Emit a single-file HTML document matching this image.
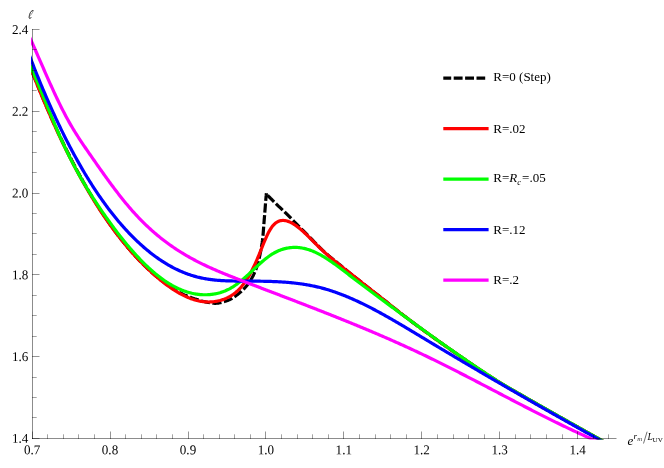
<!DOCTYPE html>
<html><head><meta charset="utf-8"><title>plot</title>
<style>
html,body{margin:0;padding:0;background:#fff;}
body{width:664px;height:468px;overflow:hidden;}
svg{display:block;opacity:0.999;will-change:transform;}
text{font-family:"Liberation Serif",serif;font-size:13px;fill:#000;}
.i{font-style:italic;}
.t{font-size:13.45px;}
</style></head><body>
<svg width="664" height="468" viewBox="0 0 664 468">
<rect width="664" height="468" fill="#fff"/>
<defs><clipPath id="c"><rect x="31.0" y="20" width="600" height="419.40"/></clipPath></defs>
<g clip-path="url(#c)" fill="none" stroke-width="3.2" stroke-linejoin="round">
<path d="M266.40,193.20 L266.40,193.24 L266.38,193.36 L266.37,193.56 L266.34,193.83 L266.31,194.16 L266.27,194.55 L266.23,194.99 L266.19,195.48 L266.14,196.02 L266.08,196.59 L266.03,197.19 L265.97,197.87 L265.88,198.95 L265.76,200.41 L265.62,202.18 L265.46,204.21 L265.28,206.43 L265.10,208.77 L264.91,211.16 L264.72,213.55 L264.54,215.86 L264.36,218.03 L264.20,220.00 L264.05,221.82 L263.92,223.59 L263.79,225.33 L263.66,227.04 L263.53,228.73 L263.41,230.42 L263.27,232.11 L263.13,233.82 L262.97,235.54 L262.80,237.29 L262.60,239.09 L262.39,240.94 L262.12,242.91 L261.80,244.97 L261.45,247.10 L261.06,249.26 L260.65,251.42 L260.22,253.54 L259.78,255.60 L259.34,257.55 L258.91,259.38 L258.49,261.04 L258.10,262.50 L257.73,263.80 L257.37,265.01 L257.02,266.13 L256.67,267.18 L256.33,268.19 L255.98,269.15 L255.62,270.09 L255.24,271.02 L254.85,271.95 L254.43,272.90 L253.99,273.89 L253.50,274.92 L252.97,275.99 L252.39,277.08 L251.76,278.19 L251.10,279.31 L250.42,280.41 L249.72,281.50 L249.02,282.55 L248.31,283.57 L247.60,284.53 L246.92,285.43 L246.25,286.25 L245.60,287.01 L244.97,287.73 L244.33,288.42 L243.71,289.07 L243.08,289.70 L242.44,290.31 L241.80,290.90 L241.15,291.49 L240.49,292.06 L239.81,292.63 L239.11,293.21 L238.39,293.79 L237.64,294.39 L236.89,294.99 L236.11,295.59 L235.32,296.19 L234.52,296.77 L233.70,297.34 L232.86,297.89 L232.02,298.41 L231.16,298.90 L230.28,299.35 L229.40,299.75 L228.45,300.14 L227.40,300.53 L226.28,300.92 L225.12,301.30 L223.95,301.66 L222.79,302.01 L221.69,302.31 L220.66,302.58 L219.74,302.80 L218.96,302.97 L218.34,303.07 L217.90,303.12 L217.54,303.15 L217.24,303.17 L216.98,303.20 L216.75,303.22 L216.54,303.24 L216.34,303.26 L216.13,303.27 L215.90,303.29 L215.65,303.29 L215.35,303.30 L215.00,303.30 L214.58,303.29 L214.09,303.26 L213.54,303.21 L212.94,303.14 L212.29,303.06 L211.60,302.97 L210.88,302.86 L210.14,302.75 L209.39,302.64 L208.63,302.51 L207.87,302.39 L207.12,302.26 L206.35,302.11 L205.56,301.93 L204.74,301.74 L203.90,301.52 L203.04,301.28 L202.15,301.03 L201.26,300.77 L200.34,300.49 L199.41,300.21 L198.46,299.92 L197.50,299.63 L196.51,299.33 L195.49,299.00 L194.44,298.66 L193.36,298.30 L192.26,297.92 L191.14,297.53 L190.02,297.12 L188.89,296.69 L187.77,296.26 L186.65,295.81 L185.55,295.35 L184.46,294.87 L183.37,294.37 L182.28,293.85 L181.20,293.30 L180.11,292.73 L179.02,292.14 L177.93,291.54 L176.85,290.91 L175.76,290.28 L174.67,289.63 L173.59,288.97 L172.50,288.30 L171.40,287.60 L170.29,286.88 L169.17,286.12 L168.04,285.34 L166.92,284.54 L165.80,283.73 L164.69,282.92 L163.60,282.10 L162.53,281.29 L161.49,280.49 L160.49,279.70 L159.52,278.94 L158.61,278.21 L157.73,277.50 L156.88,276.80 L156.05,276.10 L155.23,275.41 L154.41,274.70 L153.58,273.98 L152.74,273.23 L151.87,272.45 L150.96,271.63 L150.00,270.76 L148.99,269.83 L147.93,268.83 L146.82,267.78 L145.69,266.69 L144.53,265.55 L143.35,264.39 L142.17,263.20 L140.99,262.01 L139.82,260.81 L138.67,259.61 L137.55,258.43 L136.46,257.27 L135.39,256.12 L134.35,254.97 L133.31,253.82 L132.28,252.67 L131.26,251.50 L130.23,250.32 L129.21,249.13 L128.17,247.91 L127.13,246.67 L126.07,245.40 L125.00,244.10 L123.90,242.75 L122.79,241.37 L121.66,239.94 L120.51,238.49 L119.36,237.01 L118.21,235.50 L117.06,233.99 L115.91,232.46 L114.78,230.93 L113.65,229.41 L112.55,227.89 L111.46,226.39 L110.38,224.88 L109.31,223.36 L108.24,221.84 L107.19,220.31 L106.14,218.77 L105.09,217.24 L104.06,215.70 L103.03,214.15 L102.01,212.61 L101.00,211.07 L100.00,209.53 L99.02,208.00 L98.05,206.49 L97.11,205.00 L96.18,203.52 L95.25,202.03 L94.32,200.53 L93.39,199.01 L92.45,197.46 L91.50,195.87 L90.52,194.24 L89.51,192.54 L88.48,190.78 L87.40,188.94 L86.30,187.03 L85.17,185.06 L84.02,183.03 L82.86,180.97 L81.70,178.88 L80.53,176.77 L79.37,174.66 L78.23,172.56 L77.10,170.47 L76.00,168.41 L74.92,166.37 L73.84,164.33 L72.77,162.28 L71.71,160.22 L70.66,158.17 L69.61,156.11 L68.58,154.05 L67.54,151.99 L66.52,149.94 L65.51,147.88 L64.50,145.83 L63.50,143.79 L62.53,141.78 L61.58,139.80 L60.64,137.83 L59.71,135.87 L58.79,133.91 L57.86,131.92 L56.92,129.91 L55.98,127.85 L55.01,125.74 L54.02,123.56 L53.00,121.31 L51.94,118.96 L50.85,116.51 L49.74,113.98 L48.60,111.38 L47.44,108.73 L46.28,106.04 L45.11,103.32 L43.95,100.60 L42.80,97.88 L41.66,95.18 L40.55,92.51 L39.46,89.88 L38.38,87.26 L37.31,84.65 L36.24,82.03 L35.19,79.41 L34.14,76.79 L33.10,74.17 L32.06,71.55 L31.04,68.93 L30.02,66.31 L29.00,63.70 L28.00,61.08" stroke="#000" stroke-dasharray="9.1 2.55" stroke-dashoffset="1.35" stroke-linejoin="bevel"/>
<path d="M266.40,194.00 L268.40,196.10 L270.40,198.17 L272.40,200.21 L274.40,202.21 L276.40,204.16 L278.40,206.06 L280.40,207.93 L282.40,209.81 L284.40,211.72 L286.40,213.68 L288.40,215.68 L290.40,217.70 L292.40,219.74 L294.40,221.79 L296.40,223.83 L298.40,225.88 L300.40,227.90 L302.40,229.93 L304.40,231.95 L306.40,233.97 L308.40,235.99 L310.40,238.00 L312.40,240.00 L314.40,242.01 L316.40,244.05 L318.40,246.08 L320.40,248.09 L322.40,250.05 L324.40,251.93 L326.40,253.73 L328.40,255.45 L330.40,257.12 L332.40,258.76 L334.40,260.39 L336.40,262.02 L338.40,263.68 L340.40,265.33 L342.40,266.98 L344.40,268.62 L346.40,270.26 L348.40,271.88 L350.40,273.49 L352.40,275.09 L354.40,276.67 L356.40,278.25 L358.40,279.83 L360.40,281.41 L362.40,282.99 L364.40,284.57 L366.40,286.15 L368.40,287.73 L370.40,289.31 L372.40,290.88 L374.40,292.45 L376.40,294.01 L378.40,295.57 L380.40,297.13 L382.40,298.70 L384.40,300.27 L386.40,301.85 L388.40,303.45 L390.40,305.05 L392.40,306.66 L394.40,308.26 L396.40,309.84 L398.40,311.40 L400.40,312.96 L402.40,314.50 L404.40,316.04 L406.40,317.57 L408.40,319.09 L410.40,320.60 L412.40,322.11 L414.40,323.60 L416.40,325.09 L418.40,326.57 L420.40,328.04 L422.40,329.51 L424.40,330.96 L426.40,332.41 L428.40,333.85 L430.40,335.29 L432.40,336.72 L434.40,338.15 L436.40,339.58 L438.40,341.01 L440.40,342.43 L442.40,343.84 L444.40,345.26 L446.40,346.67 L448.40,348.07 L450.40,349.48 L452.40,350.87 L454.40,352.27 L456.40,353.66 L458.40,355.05 L460.40,356.43 L462.40,357.81 L464.40,359.18 L466.40,360.55 L468.40,361.92 L470.40,363.28 L472.40,364.63 L474.40,365.98 L476.40,367.33 L478.40,368.67 L480.40,370.01 L482.40,371.34 L484.40,372.68 L486.40,374.01 L488.40,375.33 L490.40,376.64 L492.40,377.93 L494.40,379.20 L496.40,380.46 L498.40,381.71 L500.40,382.94 L502.40,384.16 L504.40,385.37 L506.40,386.56 L508.40,387.73 L510.40,388.88 L512.40,390.02 L514.40,391.16 L516.40,392.31 L518.40,393.46 L520.40,394.60 L522.40,395.75 L524.40,396.90 L526.40,398.05 L528.40,399.19 L530.40,400.33 L532.40,401.48 L534.40,402.62 L536.40,403.76 L538.40,404.90 L540.40,406.04 L542.40,407.18 L544.40,408.31 L546.40,409.45 L548.40,410.58 L550.40,411.72 L552.40,412.85 L554.40,413.98 L556.40,415.11 L558.40,416.24 L560.40,417.37 L562.40,418.50 L564.40,419.63 L566.40,420.75 L568.40,421.88 L570.40,423.00 L572.40,424.12 L574.40,425.25 L576.40,426.37 L578.40,427.49 L580.40,428.61 L582.40,429.72 L584.40,430.84 L586.40,431.96 L588.40,433.07 L590.40,434.19 L592.40,435.30 L594.40,436.42 L596.40,437.53 L598.40,438.64 L600.40,439.75 L602.40,440.86 L604.40,441.97 L606.40,443.08" stroke="#000" stroke-dasharray="9.3 2.6" stroke-dashoffset="-1.7" stroke-linejoin="bevel"/>
<path d="M28.00,60.97 L29.00,63.62 L30.00,66.25 L31.00,68.86 L32.00,71.45 L33.00,74.03 L34.00,76.59 L35.00,79.13 L36.00,81.66 L37.00,84.16 L38.00,86.66 L39.00,89.13 L40.00,91.59 L41.00,94.03 L42.00,96.45 L43.00,98.86 L44.00,101.24 L45.00,103.62 L46.00,105.97 L47.00,108.31 L48.00,110.64 L49.00,112.94 L50.00,115.23 L51.00,117.51 L52.00,119.77 L53.00,122.01 L54.00,124.23 L55.00,126.44 L56.00,128.63 L57.00,130.81 L58.00,132.97 L59.00,135.12 L60.00,137.25 L61.00,139.36 L62.00,141.46 L63.00,143.54 L64.00,145.60 L65.00,147.66 L66.00,149.69 L67.00,151.71 L68.00,153.71 L69.00,155.70 L70.00,157.68 L71.00,159.64 L72.00,161.58 L73.00,163.51 L74.00,165.42 L75.00,167.32 L76.00,169.20 L77.00,171.07 L78.00,172.92 L79.00,174.76 L80.00,176.59 L81.00,178.39 L82.00,180.19 L83.00,181.97 L84.00,183.73 L85.00,185.48 L86.00,187.22 L87.00,188.94 L88.00,190.65 L89.00,192.34 L90.00,194.02 L91.00,195.69 L92.00,197.34 L93.00,198.98 L94.00,200.60 L95.00,202.21 L96.00,203.81 L97.00,205.39 L98.00,206.96 L99.00,208.51 L100.00,210.05 L101.00,211.58 L102.00,213.09 L103.00,214.59 L104.00,216.08 L105.00,217.55 L106.00,219.01 L107.00,220.46 L108.00,221.89 L109.00,223.31 L110.00,224.72 L111.00,226.11 L112.00,227.50 L113.00,228.86 L114.00,230.22 L115.00,231.56 L116.00,232.89 L117.00,234.21 L118.00,235.52 L119.00,236.81 L120.00,238.09 L121.00,239.35 L122.00,240.61 L123.00,241.85 L124.00,243.08 L125.00,244.30 L126.00,245.51 L127.00,246.70 L128.00,247.88 L129.00,249.05 L130.00,250.21 L131.00,251.36 L132.00,252.49 L133.00,253.61 L134.00,254.72 L135.00,255.82 L136.00,256.91 L137.00,257.98 L138.00,259.05 L139.00,260.10 L140.00,261.14 L141.00,262.17 L142.00,263.19 L143.00,264.20 L144.00,265.19 L145.00,266.18 L146.00,267.15 L147.00,268.12 L148.00,269.07 L149.00,270.01 L150.00,270.94 L151.00,271.86 L152.00,272.77 L153.00,273.67 L154.00,274.55 L155.00,275.43 L156.00,276.30 L157.00,277.15 L158.00,278.00 L159.00,278.84 L160.00,279.66 L161.00,280.47 L162.00,281.28 L163.00,282.07 L164.00,282.85 L165.00,283.62 L166.00,284.37 L167.00,285.12 L168.00,285.85 L169.00,286.57 L170.00,287.27 L171.00,287.96 L172.00,288.64 L173.00,289.31 L174.00,289.96 L175.00,290.59 L176.00,291.22 L177.00,291.82 L178.00,292.42 L179.00,292.99 L180.00,293.55 L181.00,294.10 L182.00,294.63 L183.00,295.14 L184.00,295.64 L185.00,296.12 L186.00,296.58 L187.00,297.03 L188.00,297.46 L189.00,297.87 L190.00,298.26 L191.00,298.64 L192.00,298.99 L193.00,299.33 L194.00,299.65 L195.00,299.95 L196.00,300.23 L197.00,300.49 L198.00,300.73 L199.00,300.95 L200.00,301.15 L201.00,301.33 L202.00,301.48 L203.00,301.62 L204.00,301.74 L205.00,301.83 L206.00,301.90 L207.00,301.95 L208.00,301.98 L209.00,301.98 L210.00,301.96 L211.00,301.92 L212.00,301.86 L213.00,301.77 L214.00,301.66 L215.00,301.52 L216.00,301.36 L217.00,301.18 L218.00,300.97 L219.00,300.73 L220.00,300.47 L221.00,300.18 L222.00,299.87 L223.00,299.53 L224.00,299.17 L225.00,298.78 L226.00,298.36 L227.00,297.91 L228.00,297.43 L229.00,296.92 L230.00,296.37 L231.00,295.78 L232.00,295.15 L233.00,294.48 L234.00,293.76 L235.00,293.00 L236.00,292.18 L237.00,291.31 L238.00,290.38 L239.00,289.40 L240.00,288.36 L241.00,287.25 L242.00,286.08 L243.00,284.85 L244.00,283.54 L245.00,282.16 L246.00,280.71 L247.00,279.19 L248.00,277.58 L249.00,275.89 L250.00,274.12 L251.00,272.26 L252.00,270.33 L253.00,268.31 L254.00,266.23 L255.00,264.07 L256.00,261.85 L257.00,259.57 L258.00,257.23 L259.00,254.84 L260.00,252.41 L261.00,249.93 L262.00,247.44 L263.00,244.95 L264.00,242.50 L265.00,240.10 L266.00,237.79 L267.00,235.58 L268.00,233.51 L269.00,231.59 L270.00,229.85 L271.00,228.28 L272.00,226.87 L273.00,225.62 L274.00,224.52 L275.00,223.57 L276.00,222.76 L277.00,222.08 L278.00,221.54 L279.00,221.11 L280.00,220.80 L281.00,220.59 L282.00,220.48 L283.00,220.46 L284.00,220.50 L285.00,220.62 L286.00,220.80 L287.00,221.05 L288.00,221.35 L289.00,221.72 L290.00,222.14 L291.00,222.61 L292.00,223.13 L293.00,223.70 L294.00,224.32 L295.00,224.97 L296.00,225.67 L297.00,226.40 L298.00,227.16 L299.00,227.95 L300.00,228.77 L301.00,229.61 L302.00,230.48 L303.00,231.37 L304.00,232.28 L305.00,233.20 L306.00,234.14 L307.00,235.10 L308.00,236.07 L309.00,237.04 L310.00,238.03 L311.00,239.03 L312.00,240.03 L313.00,241.03 L314.00,242.04 L315.00,243.05 L316.00,244.05 L317.00,245.06 L318.00,246.06 L319.00,247.05 L320.00,248.04 L321.00,249.01 L322.00,249.97 L323.00,250.93 L324.00,251.86 L325.00,252.78 L326.00,253.68 L327.00,254.57 L328.00,255.44 L329.00,256.29 L330.00,257.14 L331.00,257.97 L332.00,258.79 L333.00,259.61 L334.00,260.42 L335.00,261.22 L336.00,262.02 L337.00,262.82 L338.00,263.61 L339.00,264.41 L340.00,265.21 L341.00,266.00 L342.00,266.80 L343.00,267.59 L344.00,268.39 L345.00,269.18 L346.00,269.98 L347.00,270.78 L348.00,271.57 L349.00,272.37 L350.00,273.16 L351.00,273.95 L352.00,274.75 L353.00,275.54 L354.00,276.34 L355.00,277.13 L356.00,277.92 L357.00,278.72 L358.00,279.51 L359.00,280.30 L360.00,281.09 L361.00,281.88 L362.00,282.68 L363.00,283.47 L364.00,284.26 L365.00,285.05 L366.00,285.84 L367.00,286.63 L368.00,287.41 L369.00,288.20 L370.00,288.99 L371.00,289.78 L372.00,290.56 L373.00,291.35 L374.00,292.14 L375.00,292.92 L376.00,293.71 L377.00,294.49 L378.00,295.27 L379.00,296.06 L380.00,296.84 L381.00,297.62 L382.00,298.40 L383.00,299.18 L384.00,299.96 L385.00,300.74 L386.00,301.55 L387.00,302.36 L388.00,303.17 L389.00,303.97 L390.00,304.77 L391.00,305.57 L392.00,306.36 L393.00,307.16 L394.00,307.95 L395.00,308.74 L396.00,309.53 L397.00,310.31 L398.00,311.09 L399.00,311.87 L400.00,312.65 L401.00,313.42 L402.00,314.20 L403.00,314.97 L404.00,315.74 L405.00,316.50 L406.00,317.27 L407.00,318.03 L408.00,318.79 L409.00,319.55 L410.00,320.30 L411.00,321.06 L412.00,321.81 L413.00,322.56 L414.00,323.30 L415.00,324.05 L416.00,324.79 L417.00,325.53 L418.00,326.27 L419.00,327.01 L420.00,327.75 L421.00,328.48 L422.00,329.21 L423.00,329.94 L424.00,330.67 L425.00,331.40 L426.00,332.12 L427.00,332.84 L428.00,333.56 L429.00,334.28 L430.00,335.00 L431.00,335.72 L432.00,336.43 L433.00,337.15 L434.00,337.87 L435.00,338.58 L436.00,339.29 L437.00,340.01 L438.00,340.72 L439.00,341.43 L440.00,342.14 L441.00,342.85 L442.00,343.56 L443.00,344.27 L444.00,344.97 L445.00,345.68 L446.00,346.38 L447.00,347.09 L448.00,347.79 L449.00,348.49 L450.00,349.19 L451.00,349.90 L452.00,350.59 L453.00,351.29 L454.00,351.99 L455.00,352.69 L456.00,353.38 L457.00,354.08 L458.00,354.77 L459.00,355.46 L460.00,356.15 L461.00,356.84 L462.00,357.53 L463.00,358.22 L464.00,358.91 L465.00,359.59 L466.00,360.28 L467.00,360.96 L468.00,361.64 L469.00,362.32 L470.00,363.01 L471.00,363.68 L472.00,364.36 L473.00,365.04 L474.00,365.71 L475.00,366.39 L476.00,367.06 L477.00,367.73 L478.00,368.40 L479.00,369.07 L480.00,369.74 L481.00,370.41 L482.00,371.08 L483.00,371.74 L484.00,372.40 L485.00,373.06 L486.00,373.73 L487.00,374.38 L488.00,375.04 L489.00,375.70 L490.00,376.35 L491.00,377.01 L492.00,377.66 L493.00,378.31 L494.00,378.96 L495.00,379.61 L496.00,380.26 L497.00,380.90 L498.00,381.55 L499.00,382.19 L500.00,382.83 L501.00,383.41 L502.00,383.99 L503.00,384.57 L504.00,385.15 L505.00,385.73 L506.00,386.31 L507.00,386.89 L508.00,387.46 L509.00,388.04 L510.00,388.62 L511.00,389.19 L512.00,389.77 L513.00,390.35 L514.00,390.92 L515.00,391.50 L516.00,392.08 L517.00,392.65 L518.00,393.23 L519.00,393.80 L520.00,394.38 L521.00,394.95 L522.00,395.52 L523.00,396.10 L524.00,396.67 L525.00,397.24 L526.00,397.82 L527.00,398.39 L528.00,398.96 L529.00,399.53 L530.00,400.11 L531.00,400.68 L532.00,401.25 L533.00,401.82 L534.00,402.39 L535.00,402.96 L536.00,403.53 L537.00,404.10 L538.00,404.67 L539.00,405.24 L540.00,405.81 L541.00,406.38 L542.00,406.95 L543.00,407.52 L544.00,408.09 L545.00,408.65 L546.00,409.22 L547.00,409.79 L548.00,410.36 L549.00,410.92 L550.00,411.49 L551.00,412.06 L552.00,412.62 L553.00,413.19 L554.00,413.76 L555.00,414.32 L556.00,414.89 L557.00,415.45 L558.00,416.02 L559.00,416.58 L560.00,417.15 L561.00,417.71 L562.00,418.27 L563.00,418.84 L564.00,419.40 L565.00,419.96 L566.00,420.53 L567.00,421.09 L568.00,421.65 L569.00,422.21 L570.00,422.78 L571.00,423.34 L572.00,423.90 L573.00,424.46 L574.00,425.02 L575.00,425.58 L576.00,426.14 L577.00,426.70 L578.00,427.26 L579.00,427.82 L580.00,428.38 L581.00,428.94 L582.00,429.50 L583.00,430.06 L584.00,430.62 L585.00,431.18 L586.00,431.74 L587.00,432.29 L588.00,432.85 L589.00,433.41 L590.00,433.97 L591.00,434.52 L592.00,435.08 L593.00,435.64 L594.00,436.19 L595.00,436.75 L596.00,437.31 L597.00,437.86 L598.00,438.42 L599.00,438.97 L600.00,439.53 L601.00,440.08 L602.00,440.64 L603.00,441.19 L604.00,441.75 L605.00,442.30 L606.00,442.85 L607.00,443.41 L608.00,443.96 L609.00,444.51 L610.00,445.07" stroke="#f00"/>
<path d="M28.00,61.08 L29.00,63.21 L30.00,65.38 L31.00,67.58 L32.00,69.81 L33.00,72.07 L34.00,74.36 L35.00,76.67 L36.00,79.01 L37.00,81.37 L38.00,83.74 L39.00,86.14 L40.00,88.54 L41.00,90.96 L42.00,93.39 L43.00,95.83 L44.00,98.28 L45.00,100.73 L46.00,103.18 L47.00,105.63 L48.00,108.08 L49.00,110.53 L50.00,112.97 L51.00,115.40 L52.00,117.82 L53.00,120.23 L54.00,122.62 L55.00,125.00 L56.00,127.36 L57.00,129.70 L58.00,132.01 L59.00,134.30 L60.00,136.57 L61.00,138.80 L62.00,141.01 L63.00,143.19 L64.00,145.34 L65.00,147.46 L66.00,149.56 L67.00,151.63 L68.00,153.67 L69.00,155.69 L70.00,157.69 L71.00,159.66 L72.00,161.61 L73.00,163.53 L74.00,165.43 L75.00,167.31 L76.00,169.17 L77.00,171.00 L78.00,172.82 L79.00,174.61 L80.00,176.39 L81.00,178.14 L82.00,179.88 L83.00,181.59 L84.00,183.29 L85.00,184.97 L86.00,186.64 L87.00,188.29 L88.00,189.92 L89.00,191.53 L90.00,193.14 L91.00,194.72 L92.00,196.29 L93.00,197.85 L94.00,199.40 L95.00,200.93 L96.00,202.45 L97.00,203.96 L98.00,205.46 L99.00,206.94 L100.00,208.42 L101.00,209.89 L102.00,211.34 L103.00,212.79 L104.00,214.23 L105.00,215.66 L106.00,217.08 L107.00,218.50 L108.00,219.90 L109.00,221.29 L110.00,222.68 L111.00,224.05 L112.00,225.42 L113.00,226.77 L114.00,228.12 L115.00,229.46 L116.00,230.78 L117.00,232.10 L118.00,233.40 L119.00,234.70 L120.00,235.98 L121.00,237.25 L122.00,238.52 L123.00,239.77 L124.00,241.01 L125.00,242.24 L126.00,243.46 L127.00,244.67 L128.00,245.86 L129.00,247.04 L130.00,248.22 L131.00,249.38 L132.00,250.53 L133.00,251.66 L134.00,252.79 L135.00,253.90 L136.00,255.00 L137.00,256.08 L138.00,257.16 L139.00,258.22 L140.00,259.27 L141.00,260.30 L142.00,261.33 L143.00,262.34 L144.00,263.33 L145.00,264.31 L146.00,265.28 L147.00,266.24 L148.00,267.18 L149.00,268.11 L150.00,269.02 L151.00,269.92 L152.00,270.80 L153.00,271.68 L154.00,272.53 L155.00,273.37 L156.00,274.20 L157.00,275.01 L158.00,275.81 L159.00,276.59 L160.00,277.36 L161.00,278.11 L162.00,278.84 L163.00,279.56 L164.00,280.27 L165.00,280.96 L166.00,281.63 L167.00,282.29 L168.00,282.93 L169.00,283.55 L170.00,284.16 L171.00,284.75 L172.00,285.33 L173.00,285.88 L174.00,286.43 L175.00,286.95 L176.00,287.46 L177.00,287.95 L178.00,288.42 L179.00,288.88 L180.00,289.32 L181.00,289.74 L182.00,290.15 L183.00,290.54 L184.00,290.91 L185.00,291.27 L186.00,291.61 L187.00,291.93 L188.00,292.23 L189.00,292.52 L190.00,292.79 L191.00,293.04 L192.00,293.28 L193.00,293.49 L194.00,293.70 L195.00,293.88 L196.00,294.05 L197.00,294.20 L198.00,294.33 L199.00,294.44 L200.00,294.54 L201.00,294.62 L202.00,294.68 L203.00,294.73 L204.00,294.75 L205.00,294.76 L206.00,294.76 L207.00,294.73 L208.00,294.69 L209.00,294.63 L210.00,294.55 L211.00,294.45 L212.00,294.34 L213.00,294.20 L214.00,294.05 L215.00,293.87 L216.00,293.68 L217.00,293.46 L218.00,293.22 L219.00,292.96 L220.00,292.68 L221.00,292.37 L222.00,292.04 L223.00,291.69 L224.00,291.32 L225.00,290.92 L226.00,290.49 L227.00,290.04 L228.00,289.57 L229.00,289.07 L230.00,288.54 L231.00,287.99 L232.00,287.40 L233.00,286.80 L234.00,286.16 L235.00,285.49 L236.00,284.80 L237.00,284.08 L238.00,283.33 L239.00,282.56 L240.00,281.77 L241.00,280.96 L242.00,280.13 L243.00,279.27 L244.00,278.41 L245.00,277.53 L246.00,276.63 L247.00,275.72 L248.00,274.81 L249.00,273.88 L250.00,272.95 L251.00,272.01 L252.00,271.07 L253.00,270.13 L254.00,269.19 L255.00,268.24 L256.00,267.30 L257.00,266.37 L258.00,265.44 L259.00,264.52 L260.00,263.60 L261.00,262.71 L262.00,261.82 L263.00,260.95 L264.00,260.10 L265.00,259.27 L266.00,258.47 L267.00,257.68 L268.00,256.93 L269.00,256.20 L270.00,255.51 L271.00,254.84 L272.00,254.21 L273.00,253.60 L274.00,253.02 L275.00,252.48 L276.00,251.96 L277.00,251.47 L278.00,251.01 L279.00,250.58 L280.00,250.18 L281.00,249.80 L282.00,249.46 L283.00,249.14 L284.00,248.85 L285.00,248.58 L286.00,248.34 L287.00,248.13 L288.00,247.95 L289.00,247.79 L290.00,247.66 L291.00,247.55 L292.00,247.47 L293.00,247.41 L294.00,247.38 L295.00,247.38 L296.00,247.39 L297.00,247.44 L298.00,247.51 L299.00,247.60 L300.00,247.71 L301.00,247.85 L302.00,248.02 L303.00,248.20 L304.00,248.41 L305.00,248.64 L306.00,248.89 L307.00,249.17 L308.00,249.47 L309.00,249.79 L310.00,250.13 L311.00,250.49 L312.00,250.88 L313.00,251.28 L314.00,251.71 L315.00,252.15 L316.00,252.62 L317.00,253.10 L318.00,253.60 L319.00,254.12 L320.00,254.65 L321.00,255.21 L322.00,255.77 L323.00,256.36 L324.00,256.95 L325.00,257.56 L326.00,258.19 L327.00,258.83 L328.00,259.48 L329.00,260.14 L330.00,260.81 L331.00,261.49 L332.00,262.18 L333.00,262.88 L334.00,263.59 L335.00,264.31 L336.00,265.04 L337.00,265.77 L338.00,266.51 L339.00,267.25 L340.00,268.00 L341.00,268.75 L342.00,269.51 L343.00,270.27 L344.00,271.03 L345.00,271.80 L346.00,272.56 L347.00,273.33 L348.00,274.10 L349.00,274.86 L350.00,275.63 L351.00,276.39 L352.00,277.16 L353.00,277.92 L354.00,278.68 L355.00,279.44 L356.00,280.20 L357.00,280.95 L358.00,281.71 L359.00,282.46 L360.00,283.21 L361.00,283.97 L362.00,284.72 L363.00,285.47 L364.00,286.22 L365.00,286.97 L366.00,287.72 L367.00,288.47 L368.00,289.22 L369.00,289.96 L370.00,290.71 L371.00,291.46 L372.00,292.21 L373.00,292.95 L374.00,293.70 L375.00,294.45 L376.00,295.19 L377.00,295.94 L378.00,296.68 L379.00,297.43 L380.00,298.17 L381.00,298.92 L382.00,299.66 L383.00,300.41 L384.00,301.15 L385.00,301.90 L386.00,302.64 L387.00,303.38 L388.00,304.12 L389.00,304.87 L390.00,305.61 L391.00,306.35 L392.00,307.09 L393.00,307.83 L394.00,308.57 L395.00,309.31 L396.00,310.05 L397.00,310.79 L398.00,311.53 L399.00,312.26 L400.00,313.00 L401.00,313.74 L402.00,314.47 L403.00,315.21 L404.00,315.95 L405.00,316.68 L406.00,317.41 L407.00,318.15 L408.00,318.88 L409.00,319.61 L410.00,320.35 L411.00,321.08 L412.00,321.81 L413.00,322.54 L414.00,323.27 L415.00,324.00 L416.00,324.72 L417.00,325.45 L418.00,326.18 L419.00,326.91 L420.00,327.63 L421.00,328.36 L422.00,329.08 L423.00,329.80 L424.00,330.53 L425.00,331.25 L426.00,331.97 L427.00,332.69 L428.00,333.41 L429.00,334.13 L430.00,334.85 L431.00,335.57 L432.00,336.28 L433.00,337.00 L434.00,337.72 L435.00,338.43 L436.00,339.14 L437.00,339.86 L438.00,340.57 L439.00,341.28 L440.00,341.99 L441.00,342.70 L442.00,343.41 L443.00,344.12 L444.00,344.82 L445.00,345.53 L446.00,346.23 L447.00,346.94 L448.00,347.64 L449.00,348.34 L450.00,349.04 L451.00,349.75 L452.00,350.44 L453.00,351.14 L454.00,351.84 L455.00,352.54 L456.00,353.23 L457.00,353.93 L458.00,354.62 L459.00,355.31 L460.00,356.00 L461.00,356.69 L462.00,357.38 L463.00,358.07 L464.00,358.76 L465.00,359.44 L466.00,360.13 L467.00,360.81 L468.00,361.49 L469.00,362.17 L470.00,362.86 L471.00,363.53 L472.00,364.21 L473.00,364.89 L474.00,365.56 L475.00,366.24 L476.00,366.91 L477.00,367.58 L478.00,368.25 L479.00,368.92 L480.00,369.59 L481.00,370.26 L482.00,370.93 L483.00,371.59 L484.00,372.25 L485.00,372.91 L486.00,373.58 L487.00,374.23 L488.00,374.89 L489.00,375.55 L490.00,376.20 L491.00,376.86 L492.00,377.51 L493.00,378.16 L494.00,378.81 L495.00,379.46 L496.00,380.11 L497.00,380.75 L498.00,381.40 L499.00,382.04 L500.00,382.68 L501.00,383.26 L502.00,383.84 L503.00,384.42 L504.00,385.00 L505.00,385.58 L506.00,386.16 L507.00,386.74 L508.00,387.31 L509.00,387.89 L510.00,388.47 L511.00,389.04 L512.00,389.62 L513.00,390.20 L514.00,390.77 L515.00,391.35 L516.00,391.93 L517.00,392.50 L518.00,393.08 L519.00,393.65 L520.00,394.23 L521.00,394.80 L522.00,395.37 L523.00,395.95 L524.00,396.52 L525.00,397.09 L526.00,397.67 L527.00,398.24 L528.00,398.81 L529.00,399.38 L530.00,399.96 L531.00,400.53 L532.00,401.10 L533.00,401.67 L534.00,402.24 L535.00,402.81 L536.00,403.38 L537.00,403.95 L538.00,404.52 L539.00,405.09 L540.00,405.66 L541.00,406.23 L542.00,406.80 L543.00,407.37 L544.00,407.94 L545.00,408.50 L546.00,409.07 L547.00,409.64 L548.00,410.21 L549.00,410.77 L550.00,411.34 L551.00,411.91 L552.00,412.47 L553.00,413.04 L554.00,413.61 L555.00,414.17 L556.00,414.74 L557.00,415.30 L558.00,415.87 L559.00,416.43 L560.00,417.00 L561.00,417.56 L562.00,418.12 L563.00,418.69 L564.00,419.25 L565.00,419.81 L566.00,420.38 L567.00,420.94 L568.00,421.50 L569.00,422.06 L570.00,422.63 L571.00,423.19 L572.00,423.75 L573.00,424.31 L574.00,424.87 L575.00,425.43 L576.00,425.99 L577.00,426.55 L578.00,427.11 L579.00,427.67 L580.00,428.23 L581.00,428.79 L582.00,429.35 L583.00,429.91 L584.00,430.47 L585.00,431.03 L586.00,431.59 L587.00,432.14 L588.00,432.70 L589.00,433.26 L590.00,433.82 L591.00,434.37 L592.00,434.93 L593.00,435.49 L594.00,436.04 L595.00,436.60 L596.00,437.16 L597.00,437.71 L598.00,438.27 L599.00,438.82 L600.00,439.38 L601.00,439.93 L602.00,440.49 L603.00,441.04 L604.00,441.60 L605.00,442.15 L606.00,442.70 L607.00,443.26 L608.00,443.81 L609.00,444.36 L610.00,444.92" stroke="#0f0"/>
<path d="M28.00,51.68 L29.00,54.32 L30.00,56.94 L31.00,59.54 L32.00,62.12 L33.00,64.68 L34.00,67.23 L35.00,69.75 L36.00,72.26 L37.00,74.75 L38.00,77.22 L39.00,79.67 L40.00,82.10 L41.00,84.51 L42.00,86.91 L43.00,89.29 L44.00,91.65 L45.00,93.99 L46.00,96.32 L47.00,98.63 L48.00,100.92 L49.00,103.19 L50.00,105.44 L51.00,107.68 L52.00,109.90 L53.00,112.10 L54.00,114.28 L55.00,116.45 L56.00,118.60 L57.00,120.73 L58.00,122.84 L59.00,124.94 L60.00,127.02 L61.00,129.09 L62.00,131.13 L63.00,133.16 L64.00,135.18 L65.00,137.17 L66.00,139.16 L67.00,141.12 L68.00,143.07 L69.00,145.00 L70.00,146.91 L71.00,148.81 L72.00,150.69 L73.00,152.55 L74.00,154.40 L75.00,156.24 L76.00,158.05 L77.00,159.86 L78.00,161.64 L79.00,163.41 L80.00,165.16 L81.00,166.90 L82.00,168.62 L83.00,170.33 L84.00,172.02 L85.00,173.70 L86.00,175.36 L87.00,177.00 L88.00,178.63 L89.00,180.25 L90.00,181.85 L91.00,183.43 L92.00,185.00 L93.00,186.55 L94.00,188.09 L95.00,189.62 L96.00,191.13 L97.00,192.62 L98.00,194.10 L99.00,195.57 L100.00,197.02 L101.00,198.46 L102.00,199.88 L103.00,201.29 L104.00,202.68 L105.00,204.06 L106.00,205.42 L107.00,206.78 L108.00,208.11 L109.00,209.44 L110.00,210.75 L111.00,212.04 L112.00,213.32 L113.00,214.59 L114.00,215.84 L115.00,217.09 L116.00,218.31 L117.00,219.53 L118.00,220.73 L119.00,221.91 L120.00,223.09 L121.00,224.25 L122.00,225.40 L123.00,226.53 L124.00,227.65 L125.00,228.76 L126.00,229.86 L127.00,230.94 L128.00,232.01 L129.00,233.06 L130.00,234.11 L131.00,235.14 L132.00,236.16 L133.00,237.17 L134.00,238.16 L135.00,239.14 L136.00,240.11 L137.00,241.07 L138.00,242.02 L139.00,242.95 L140.00,243.87 L141.00,244.78 L142.00,245.67 L143.00,246.56 L144.00,247.43 L145.00,248.29 L146.00,249.14 L147.00,249.97 L148.00,250.80 L149.00,251.61 L150.00,252.41 L151.00,253.20 L152.00,253.97 L153.00,254.74 L154.00,255.49 L155.00,256.23 L156.00,256.96 L157.00,257.67 L158.00,258.38 L159.00,259.07 L160.00,259.75 L161.00,260.42 L162.00,261.08 L163.00,261.72 L164.00,262.36 L165.00,262.98 L166.00,263.59 L167.00,264.19 L168.00,264.78 L169.00,265.36 L170.00,265.92 L171.00,266.48 L172.00,267.02 L173.00,267.55 L174.00,268.07 L175.00,268.58 L176.00,269.07 L177.00,269.56 L178.00,270.03 L179.00,270.50 L180.00,270.95 L181.00,271.39 L182.00,271.82 L183.00,272.23 L184.00,272.64 L185.00,273.04 L186.00,273.42 L187.00,273.80 L188.00,274.16 L189.00,274.51 L190.00,274.85 L191.00,275.18 L192.00,275.50 L193.00,275.80 L194.00,276.10 L195.00,276.39 L196.00,276.66 L197.00,276.93 L198.00,277.18 L199.00,277.42 L200.00,277.65 L201.00,277.88 L202.00,278.09 L203.00,278.29 L204.00,278.48 L205.00,278.67 L206.00,278.84 L207.00,279.01 L208.00,279.16 L209.00,279.31 L210.00,279.45 L211.00,279.58 L212.00,279.71 L213.00,279.83 L214.00,279.94 L215.00,280.04 L216.00,280.14 L217.00,280.23 L218.00,280.31 L219.00,280.39 L220.00,280.46 L221.00,280.53 L222.00,280.59 L223.00,280.65 L224.00,280.70 L225.00,280.75 L226.00,280.79 L227.00,280.83 L228.00,280.87 L229.00,280.90 L230.00,280.93 L231.00,280.95 L232.00,280.97 L233.00,280.99 L234.00,281.01 L235.00,281.03 L236.00,281.04 L237.00,281.05 L238.00,281.06 L239.00,281.07 L240.00,281.07 L241.00,281.08 L242.00,281.09 L243.00,281.09 L244.00,281.10 L245.00,281.10 L246.00,281.11 L247.00,281.11 L248.00,281.12 L249.00,281.12 L250.00,281.13 L251.00,281.14 L252.00,281.14 L253.00,281.15 L254.00,281.16 L255.00,281.16 L256.00,281.17 L257.00,281.18 L258.00,281.20 L259.00,281.21 L260.00,281.22 L261.00,281.24 L262.00,281.25 L263.00,281.27 L264.00,281.29 L265.00,281.31 L266.00,281.33 L267.00,281.36 L268.00,281.38 L269.00,281.41 L270.00,281.44 L271.00,281.47 L272.00,281.51 L273.00,281.54 L274.00,281.58 L275.00,281.62 L276.00,281.67 L277.00,281.72 L278.00,281.77 L279.00,281.82 L280.00,281.87 L281.00,281.93 L282.00,281.99 L283.00,282.06 L284.00,282.13 L285.00,282.20 L286.00,282.28 L287.00,282.35 L288.00,282.44 L289.00,282.52 L290.00,282.61 L291.00,282.71 L292.00,282.81 L293.00,282.91 L294.00,283.02 L295.00,283.13 L296.00,283.24 L297.00,283.36 L298.00,283.49 L299.00,283.62 L300.00,283.75 L301.00,283.89 L302.00,284.03 L303.00,284.18 L304.00,284.33 L305.00,284.49 L306.00,284.66 L307.00,284.83 L308.00,285.00 L309.00,285.18 L310.00,285.37 L311.00,285.56 L312.00,285.76 L313.00,285.96 L314.00,286.17 L315.00,286.39 L316.00,286.61 L317.00,286.84 L318.00,287.07 L319.00,287.31 L320.00,287.56 L321.00,287.82 L322.00,288.08 L323.00,288.35 L324.00,288.62 L325.00,288.90 L326.00,289.19 L327.00,289.48 L328.00,289.79 L329.00,290.09 L330.00,290.41 L331.00,290.73 L332.00,291.05 L333.00,291.39 L334.00,291.73 L335.00,292.07 L336.00,292.42 L337.00,292.78 L338.00,293.14 L339.00,293.51 L340.00,293.88 L341.00,294.26 L342.00,294.65 L343.00,295.04 L344.00,295.44 L345.00,295.84 L346.00,296.25 L347.00,296.66 L348.00,297.08 L349.00,297.50 L350.00,297.93 L351.00,298.36 L352.00,298.79 L353.00,299.24 L354.00,299.68 L355.00,300.13 L356.00,300.59 L357.00,301.05 L358.00,301.52 L359.00,301.99 L360.00,302.46 L361.00,302.94 L362.00,303.42 L363.00,303.90 L364.00,304.39 L365.00,304.89 L366.00,305.39 L367.00,305.89 L368.00,306.39 L369.00,306.90 L370.00,307.41 L371.00,307.93 L372.00,308.45 L373.00,308.97 L374.00,309.50 L375.00,310.03 L376.00,310.56 L377.00,311.10 L378.00,311.64 L379.00,312.18 L380.00,312.72 L381.00,313.27 L382.00,313.82 L383.00,314.37 L384.00,314.93 L385.00,315.49 L386.00,316.05 L387.00,316.61 L388.00,317.18 L389.00,317.74 L390.00,318.31 L391.00,318.89 L392.00,319.46 L393.00,320.04 L394.00,320.61 L395.00,321.19 L396.00,321.78 L397.00,322.36 L398.00,322.94 L399.00,323.53 L400.00,324.12 L401.00,324.71 L402.00,325.30 L403.00,325.89 L404.00,326.48 L405.00,327.08 L406.00,327.67 L407.00,328.27 L408.00,328.87 L409.00,329.47 L410.00,330.06 L411.00,330.66 L412.00,331.26 L413.00,331.87 L414.00,332.47 L415.00,333.07 L416.00,333.67 L417.00,334.27 L418.00,334.88 L419.00,335.48 L420.00,336.08 L421.00,336.69 L422.00,337.29 L423.00,337.89 L424.00,338.49 L425.00,339.10 L426.00,339.70 L427.00,340.30 L428.00,340.90 L429.00,341.50 L430.00,342.10 L431.00,342.71 L432.00,343.31 L433.00,343.91 L434.00,344.50 L435.00,345.10 L436.00,345.70 L437.00,346.30 L438.00,346.90 L439.00,347.50 L440.00,348.10 L441.00,348.69 L442.00,349.29 L443.00,349.89 L444.00,350.48 L445.00,351.08 L446.00,351.68 L447.00,352.27 L448.00,352.87 L449.00,353.46 L450.00,354.06 L451.00,354.65 L452.00,355.24 L453.00,355.84 L454.00,356.43 L455.00,357.02 L456.00,357.62 L457.00,358.21 L458.00,358.80 L459.00,359.39 L460.00,359.98 L461.00,360.57 L462.00,361.17 L463.00,361.76 L464.00,362.35 L465.00,362.94 L466.00,363.53 L467.00,364.11 L468.00,364.70 L469.00,365.29 L470.00,365.88 L471.00,366.47 L472.00,367.06 L473.00,367.64 L474.00,368.23 L475.00,368.82 L476.00,369.41 L477.00,369.99 L478.00,370.58 L479.00,371.16 L480.00,371.75 L481.00,372.33 L482.00,372.92 L483.00,373.50 L484.00,374.09 L485.00,374.67 L486.00,375.26 L487.00,375.84 L488.00,376.42 L489.00,377.01 L490.00,377.59 L491.00,378.17 L492.00,378.75 L493.00,379.33 L494.00,379.92 L495.00,380.50 L496.00,381.08 L497.00,381.66 L498.00,382.24 L499.00,382.82 L500.00,383.40 L501.00,383.98 L502.00,384.56 L503.00,385.14 L504.00,385.71 L505.00,386.29 L506.00,386.87 L507.00,387.45 L508.00,388.03 L509.00,388.60 L510.00,389.18 L511.00,389.76 L512.00,390.33 L513.00,390.91 L514.00,391.49 L515.00,392.06 L516.00,392.64 L517.00,393.21 L518.00,393.79 L519.00,394.36 L520.00,394.94 L521.00,395.51 L522.00,396.08 L523.00,396.66 L524.00,397.23 L525.00,397.80 L526.00,398.38 L527.00,398.95 L528.00,399.52 L529.00,400.09 L530.00,400.66 L531.00,401.24 L532.00,401.81 L533.00,402.38 L534.00,402.95 L535.00,403.52 L536.00,404.09 L537.00,404.66 L538.00,405.23 L539.00,405.80 L540.00,406.37 L541.00,406.94 L542.00,407.50 L543.00,408.07 L544.00,408.64 L545.00,409.21 L546.00,409.78 L547.00,410.34 L548.00,410.91 L549.00,411.48 L550.00,412.04 L551.00,412.61 L552.00,413.18 L553.00,413.74 L554.00,414.31 L555.00,414.87 L556.00,415.44 L557.00,416.00 L558.00,416.57 L559.00,417.13 L560.00,417.70 L561.00,418.26 L562.00,418.83 L563.00,419.39 L564.00,419.95 L565.00,420.52 L566.00,421.08 L567.00,421.64 L568.00,422.20 L569.00,422.76 L570.00,423.33 L571.00,423.89 L572.00,424.45 L573.00,425.01 L574.00,425.57 L575.00,426.13 L576.00,426.69 L577.00,427.25 L578.00,427.81 L579.00,428.37 L580.00,428.93 L581.00,429.49 L582.00,430.05 L583.00,430.61 L584.00,431.17 L585.00,431.73 L586.00,432.29 L587.00,432.84 L588.00,433.40 L589.00,433.96 L590.00,434.52 L591.00,435.07 L592.00,435.63 L593.00,436.19 L594.00,436.74 L595.00,437.30 L596.00,437.86 L597.00,438.41 L598.00,438.97 L599.00,439.52 L600.00,440.08 L601.00,440.63 L602.00,441.19 L603.00,441.74 L604.00,442.30 L605.00,442.85 L606.00,443.40 L607.00,443.96 L608.00,444.51 L609.00,445.06 L610.00,445.62" stroke="#00f"/>
<path d="M28.00,33.79 L29.00,35.94 L30.00,38.10 L31.00,40.29 L32.00,42.50 L33.00,44.72 L34.00,46.96 L35.00,49.21 L36.00,51.48 L37.00,53.75 L38.00,56.03 L39.00,58.31 L40.00,60.60 L41.00,62.89 L42.00,65.18 L43.00,67.47 L44.00,69.76 L45.00,72.04 L46.00,74.31 L47.00,76.57 L48.00,78.82 L49.00,81.06 L50.00,83.29 L51.00,85.51 L52.00,87.70 L53.00,89.89 L54.00,92.06 L55.00,94.21 L56.00,96.34 L57.00,98.45 L58.00,100.54 L59.00,102.61 L60.00,104.65 L61.00,106.67 L62.00,108.67 L63.00,110.64 L64.00,112.58 L65.00,114.49 L66.00,116.38 L67.00,118.23 L68.00,120.06 L69.00,121.85 L70.00,123.61 L71.00,125.34 L72.00,127.04 L73.00,128.72 L74.00,130.37 L75.00,131.99 L76.00,133.60 L77.00,135.18 L78.00,136.75 L79.00,138.29 L80.00,139.82 L81.00,141.33 L82.00,142.83 L83.00,144.32 L84.00,145.80 L85.00,147.27 L86.00,148.73 L87.00,150.18 L88.00,151.63 L89.00,153.07 L90.00,154.51 L91.00,155.95 L92.00,157.39 L93.00,158.83 L94.00,160.26 L95.00,161.69 L96.00,163.12 L97.00,164.55 L98.00,165.98 L99.00,167.40 L100.00,168.82 L101.00,170.23 L102.00,171.64 L103.00,173.05 L104.00,174.45 L105.00,175.84 L106.00,177.23 L107.00,178.61 L108.00,179.99 L109.00,181.36 L110.00,182.73 L111.00,184.08 L112.00,185.43 L113.00,186.78 L114.00,188.11 L115.00,189.44 L116.00,190.76 L117.00,192.07 L118.00,193.37 L119.00,194.66 L120.00,195.94 L121.00,197.21 L122.00,198.47 L123.00,199.72 L124.00,200.96 L125.00,202.18 L126.00,203.40 L127.00,204.60 L128.00,205.80 L129.00,206.98 L130.00,208.14 L131.00,209.30 L132.00,210.44 L133.00,211.56 L134.00,212.68 L135.00,213.78 L136.00,214.86 L137.00,215.94 L138.00,217.00 L139.00,218.05 L140.00,219.09 L141.00,220.11 L142.00,221.12 L143.00,222.12 L144.00,223.11 L145.00,224.09 L146.00,225.05 L147.00,226.00 L148.00,226.94 L149.00,227.87 L150.00,228.79 L151.00,229.70 L152.00,230.59 L153.00,231.47 L154.00,232.35 L155.00,233.21 L156.00,234.06 L157.00,234.91 L158.00,235.74 L159.00,236.56 L160.00,237.37 L161.00,238.17 L162.00,238.96 L163.00,239.74 L164.00,240.51 L165.00,241.27 L166.00,242.03 L167.00,242.77 L168.00,243.50 L169.00,244.23 L170.00,244.95 L171.00,245.65 L172.00,246.35 L173.00,247.04 L174.00,247.72 L175.00,248.40 L176.00,249.06 L177.00,249.72 L178.00,250.37 L179.00,251.01 L180.00,251.64 L181.00,252.26 L182.00,252.88 L183.00,253.49 L184.00,254.10 L185.00,254.69 L186.00,255.28 L187.00,255.86 L188.00,256.44 L189.00,257.01 L190.00,257.57 L191.00,258.12 L192.00,258.67 L193.00,259.22 L194.00,259.75 L195.00,260.28 L196.00,260.81 L197.00,261.33 L198.00,261.84 L199.00,262.35 L200.00,262.85 L201.00,263.35 L202.00,263.84 L203.00,264.33 L204.00,264.81 L205.00,265.29 L206.00,265.77 L207.00,266.23 L208.00,266.70 L209.00,267.16 L210.00,267.61 L211.00,268.07 L212.00,268.51 L213.00,268.96 L214.00,269.40 L215.00,269.83 L216.00,270.27 L217.00,270.70 L218.00,271.12 L219.00,271.55 L220.00,271.97 L221.00,272.39 L222.00,272.80 L223.00,273.21 L224.00,273.62 L225.00,274.03 L226.00,274.44 L227.00,274.84 L228.00,275.24 L229.00,275.64 L230.00,276.04 L231.00,276.43 L232.00,276.83 L233.00,277.22 L234.00,277.61 L235.00,278.00 L236.00,278.39 L237.00,278.78 L238.00,279.17 L239.00,279.55 L240.00,279.94 L241.00,280.33 L242.00,280.71 L243.00,281.10 L244.00,281.48 L245.00,281.87 L246.00,282.25 L247.00,282.64 L248.00,283.02 L249.00,283.40 L250.00,283.79 L251.00,284.17 L252.00,284.55 L253.00,284.94 L254.00,285.32 L255.00,285.70 L256.00,286.09 L257.00,286.47 L258.00,286.85 L259.00,287.23 L260.00,287.61 L261.00,288.00 L262.00,288.38 L263.00,288.76 L264.00,289.14 L265.00,289.52 L266.00,289.91 L267.00,290.29 L268.00,290.67 L269.00,291.05 L270.00,291.43 L271.00,291.82 L272.00,292.20 L273.00,292.58 L274.00,292.96 L275.00,293.34 L276.00,293.72 L277.00,294.11 L278.00,294.49 L279.00,294.87 L280.00,295.25 L281.00,295.63 L282.00,296.02 L283.00,296.40 L284.00,296.78 L285.00,297.16 L286.00,297.55 L287.00,297.93 L288.00,298.31 L289.00,298.69 L290.00,299.08 L291.00,299.46 L292.00,299.84 L293.00,300.23 L294.00,300.61 L295.00,300.99 L296.00,301.38 L297.00,301.76 L298.00,302.15 L299.00,302.53 L300.00,302.92 L301.00,303.30 L302.00,303.69 L303.00,304.07 L304.00,304.46 L305.00,304.85 L306.00,305.23 L307.00,305.62 L308.00,306.01 L309.00,306.39 L310.00,306.78 L311.00,307.17 L312.00,307.56 L313.00,307.95 L314.00,308.33 L315.00,308.72 L316.00,309.11 L317.00,309.50 L318.00,309.89 L319.00,310.28 L320.00,310.68 L321.00,311.07 L322.00,311.46 L323.00,311.85 L324.00,312.24 L325.00,312.64 L326.00,313.03 L327.00,313.43 L328.00,313.82 L329.00,314.22 L330.00,314.61 L331.00,315.01 L332.00,315.40 L333.00,315.80 L334.00,316.20 L335.00,316.60 L336.00,317.00 L337.00,317.39 L338.00,317.79 L339.00,318.19 L340.00,318.59 L341.00,319.00 L342.00,319.40 L343.00,319.80 L344.00,320.20 L345.00,320.61 L346.00,321.01 L347.00,321.42 L348.00,321.82 L349.00,322.23 L350.00,322.63 L351.00,323.04 L352.00,323.45 L353.00,323.86 L354.00,324.27 L355.00,324.68 L356.00,325.09 L357.00,325.50 L358.00,325.91 L359.00,326.33 L360.00,326.74 L361.00,327.15 L362.00,327.57 L363.00,327.98 L364.00,328.40 L365.00,328.82 L366.00,329.24 L367.00,329.66 L368.00,330.07 L369.00,330.50 L370.00,330.92 L371.00,331.34 L372.00,331.76 L373.00,332.18 L374.00,332.61 L375.00,333.03 L376.00,333.46 L377.00,333.89 L378.00,334.32 L379.00,334.74 L380.00,335.17 L381.00,335.61 L382.00,336.04 L383.00,336.47 L384.00,336.90 L385.00,337.34 L386.00,337.77 L387.00,338.21 L388.00,338.64 L389.00,339.08 L390.00,339.52 L391.00,339.96 L392.00,340.40 L393.00,340.84 L394.00,341.29 L395.00,341.73 L396.00,342.18 L397.00,342.62 L398.00,343.07 L399.00,343.52 L400.00,343.97 L401.00,344.42 L402.00,344.87 L403.00,345.32 L404.00,345.77 L405.00,346.23 L406.00,346.68 L407.00,347.14 L408.00,347.60 L409.00,348.06 L410.00,348.52 L411.00,348.98 L412.00,349.44 L413.00,349.90 L414.00,350.37 L415.00,350.83 L416.00,351.30 L417.00,351.77 L418.00,352.24 L419.00,352.71 L420.00,353.18 L421.00,353.65 L422.00,354.13 L423.00,354.60 L424.00,355.08 L425.00,355.56 L426.00,356.04 L427.00,356.52 L428.00,357.00 L429.00,357.48 L430.00,357.97 L431.00,358.45 L432.00,358.94 L433.00,359.43 L434.00,359.91 L435.00,360.40 L436.00,360.89 L437.00,361.39 L438.00,361.88 L439.00,362.37 L440.00,362.87 L441.00,363.36 L442.00,363.86 L443.00,364.36 L444.00,364.86 L445.00,365.36 L446.00,365.86 L447.00,366.36 L448.00,366.86 L449.00,367.37 L450.00,367.87 L451.00,368.37 L452.00,368.88 L453.00,369.39 L454.00,369.89 L455.00,370.40 L456.00,370.91 L457.00,371.42 L458.00,371.93 L459.00,372.44 L460.00,372.95 L461.00,373.46 L462.00,373.98 L463.00,374.49 L464.00,375.00 L465.00,375.52 L466.00,376.03 L467.00,376.55 L468.00,377.06 L469.00,377.58 L470.00,378.10 L471.00,378.61 L472.00,379.13 L473.00,379.65 L474.00,380.17 L475.00,380.69 L476.00,381.21 L477.00,381.73 L478.00,382.25 L479.00,382.77 L480.00,383.29 L481.00,383.81 L482.00,384.33 L483.00,384.85 L484.00,385.37 L485.00,385.89 L486.00,386.42 L487.00,386.94 L488.00,387.46 L489.00,387.98 L490.00,388.50 L491.00,389.03 L492.00,389.55 L493.00,390.07 L494.00,390.60 L495.00,391.12 L496.00,391.64 L497.00,392.16 L498.00,392.69 L499.00,393.21 L500.00,393.73 L501.00,394.25 L502.00,394.78 L503.00,395.30 L504.00,395.82 L505.00,396.34 L506.00,396.86 L507.00,397.39 L508.00,397.91 L509.00,398.43 L510.00,398.95 L511.00,399.47 L512.00,399.99 L513.00,400.51 L514.00,401.03 L515.00,401.55 L516.00,402.07 L517.00,402.59 L518.00,403.10 L519.00,403.62 L520.00,404.14 L521.00,404.66 L522.00,405.17 L523.00,405.69 L524.00,406.20 L525.00,406.72 L526.00,407.23 L527.00,407.75 L528.00,408.26 L529.00,408.77 L530.00,409.28 L531.00,409.79 L532.00,410.31 L533.00,410.82 L534.00,411.32 L535.00,411.83 L536.00,412.34 L537.00,412.85 L538.00,413.36 L539.00,413.86 L540.00,414.37 L541.00,414.87 L542.00,415.37 L543.00,415.88 L544.00,416.38 L545.00,416.88 L546.00,417.38 L547.00,417.88 L548.00,418.37 L549.00,418.87 L550.00,419.37 L551.00,419.86 L552.00,420.36 L553.00,420.85 L554.00,421.34 L555.00,421.83 L556.00,422.32 L557.00,422.81 L558.00,423.30 L559.00,423.78 L560.00,424.27 L561.00,424.75 L562.00,425.24 L563.00,425.72 L564.00,426.20 L565.00,426.68 L566.00,427.15 L567.00,427.63 L568.00,428.11 L569.00,428.58 L570.00,429.05 L571.00,429.52 L572.00,429.99 L573.00,430.46 L574.00,430.93 L575.00,431.40 L576.00,431.86 L577.00,432.32 L578.00,432.78 L579.00,433.24 L580.00,433.70 L581.00,434.16 L582.00,434.61 L583.00,435.07 L584.00,435.52 L585.00,435.97 L586.00,436.42 L587.00,436.87 L588.00,437.31 L589.00,437.76 L590.00,438.20 L591.00,438.64 L592.00,439.08 L593.00,439.51 L594.00,439.95 L595.00,440.38 L596.00,440.82 L597.00,441.25 L598.00,441.67 L599.00,442.10 L600.00,442.52" stroke="#f0f"/>
</g>
<g stroke-width="1" fill="none">
<path d="M32.5,29.0 V439.0 M32.0,438.5 H616.5" stroke="#000" stroke-opacity="0.45"/>
<path d="M32.5,439.0 V431.5 M110.5,439.0 V431.5 M188.5,439.0 V431.5 M265.5,439.0 V431.5 M343.5,439.0 V431.5 M421.5,439.0 V431.5 M499.5,439.0 V431.5 M577.5,439.0 V431.5 M32.0,438.5 H39.5 M32.0,356.5 H39.5 M32.0,274.5 H39.5 M32.0,193.5 H39.5 M32.0,111.5 H39.5 M32.0,29.5 H39.5" stroke="#000" stroke-opacity="0.42"/>
<path d="M47.5,439.0 V434.3 M63.5,439.0 V434.3 M78.5,439.0 V434.3 M94.5,439.0 V434.3 M125.5,439.0 V434.3 M141.5,439.0 V434.3 M156.5,439.0 V434.3 M172.5,439.0 V434.3 M203.5,439.0 V434.3 M219.5,439.0 V434.3 M234.5,439.0 V434.3 M250.5,439.0 V434.3 M281.5,439.0 V434.3 M297.5,439.0 V434.3 M312.5,439.0 V434.3 M328.5,439.0 V434.3 M359.5,439.0 V434.3 M375.5,439.0 V434.3 M390.5,439.0 V434.3 M406.5,439.0 V434.3 M437.5,439.0 V434.3 M453.5,439.0 V434.3 M468.5,439.0 V434.3 M484.5,439.0 V434.3 M515.5,439.0 V434.3 M530.5,439.0 V434.3 M546.5,439.0 V434.3 M562.5,439.0 V434.3 M593.5,439.0 V434.3 M608.5,439.0 V434.3 M32.0,417.5 H36.7 M32.0,397.5 H36.7 M32.0,377.5 H36.7 M32.0,336.5 H36.7 M32.0,315.5 H36.7 M32.0,295.5 H36.7 M32.0,254.5 H36.7 M32.0,233.5 H36.7 M32.0,213.5 H36.7 M32.0,172.5 H36.7 M32.0,152.5 H36.7 M32.0,131.5 H36.7 M32.0,90.5 H36.7 M32.0,70.5 H36.7 M32.0,49.5 H36.7" stroke="#000" stroke-opacity="0.36"/>
</g>
<g><text transform="translate(32.1,454.2) scale(0.975,1) rotate(0.03)" text-anchor="middle" class="t">0.7</text><text transform="translate(110.0,454.2) scale(0.975,1) rotate(0.03)" text-anchor="middle" class="t">0.8</text><text transform="translate(188.0,454.2) scale(0.975,1) rotate(0.03)" text-anchor="middle" class="t">0.9</text><text transform="translate(265.9,454.2) scale(0.975,1) rotate(0.03)" text-anchor="middle" class="t">1.0</text><text transform="translate(343.8,454.2) scale(0.975,1) rotate(0.03)" text-anchor="middle" class="t">1.1</text><text transform="translate(421.7,454.2) scale(0.975,1) rotate(0.03)" text-anchor="middle" class="t">1.2</text><text transform="translate(499.7,454.2) scale(0.975,1) rotate(0.03)" text-anchor="middle" class="t">1.3</text><text transform="translate(577.6,454.2) scale(0.975,1) rotate(0.03)" text-anchor="middle" class="t">1.4</text><text transform="translate(28.3,442.8) scale(0.975,1) rotate(0.03)" text-anchor="end" class="t">1.4</text><text transform="translate(28.3,361.1) scale(0.975,1) rotate(0.03)" text-anchor="end" class="t">1.6</text><text transform="translate(28.3,279.3) scale(0.975,1) rotate(0.03)" text-anchor="end" class="t">1.8</text><text transform="translate(28.3,197.5) scale(0.975,1) rotate(0.03)" text-anchor="end" class="t">2.0</text><text transform="translate(28.3,115.7) scale(0.975,1) rotate(0.03)" text-anchor="end" class="t">2.2</text><text transform="translate(28.3,34.0) scale(0.975,1) rotate(0.03)" text-anchor="end" class="t">2.4</text></g>
<g fill="none" stroke-width="3.2">
<path d="M443.3,78.1 H485.2" stroke="#000" stroke-dasharray="8.9 2.5" stroke-dashoffset="1"/>
<path d="M443.3,128.6 H488.6" stroke="#f00"/>
<path d="M443.3,179.1 H488.6" stroke="#0f0"/>
<path d="M443.3,229.6 H488.6" stroke="#00f"/>
<path d="M443.3,280.1 H488.6" stroke="#f0f"/>
</g>
<text x="493.3" y="81.3">R=0 (Step)</text>
<text x="493.3" y="132.6">R=.02</text>
<text x="493.3" y="182.1">R=<tspan class="i">R</tspan><tspan class="i" font-size="8.6" dy="2.5">c</tspan><tspan dy="-2.5" dx="1">=.05</tspan></text>
<text x="493.3" y="233.6">R=.12</text>
<text x="493.3" y="284.1">R=.2</text>
<path d="M33.0,10.5 C31.7,10.2 30.4,12.0 29.7,14.3 C29.1,16.3 28.9,18.0 29.5,18.4 C30.0,18.7 30.6,18.2 31.1,17.5" fill="none" stroke="#1a1a1a" stroke-width="0.95" stroke-linecap="round"/>
<path d="M33.0,10.5 C33.5,11.3 32.3,13.2 30.2,15.6" fill="none" stroke="#333" stroke-width="0.5" stroke-linecap="round"/>
<text x="627.6" y="444.9" class="i" style="font-size:13px">e</text>
<text x="633.6" y="438.9" class="i" style="font-size:9.2px">r</text>
<text x="637.2" y="441.2" class="i" style="font-size:6.8px;fill:#333">m</text>
<path d="M643.5,443.5 L647.1,431.7" stroke="#333" stroke-width="0.7" fill="none"/>
<text x="647.6" y="439.9" class="i" style="font-size:9.5px">L</text>
<text x="652.6" y="441.6" style="font-size:7.1px">UV</text>
</svg>
</body></html>
